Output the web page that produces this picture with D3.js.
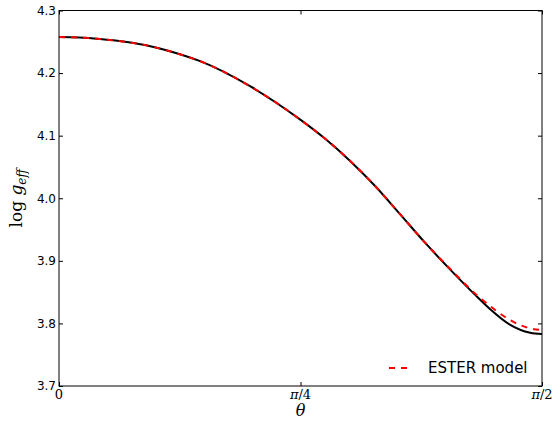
<!DOCTYPE html>
<html><head><meta charset="utf-8">
<script src="https://cdn.jsdelivr.net/npm/d3@7/dist/d3.min.js"></script>
<style>body{margin:0;background:#fff}svg{display:block}</style>
</head><body>
<svg id="c" width="557" height="427"></svg>
<script>
const thetaDeg  = [0, 3.8, 7.6, 12.3, 17.0, 21.6, 26.3, 35.6, 44.9, 49.6, 54.2, 58.9, 63.5, 68.2, 72.9, 77.5, 80.3, 84.0, 87.8, 90];
const loggObs   = [4.2575, 4.2568, 4.2545, 4.2500, 4.2430, 4.2325, 4.219, 4.179, 4.126, 4.095, 4.060, 4.0195, 3.975, 3.929, 3.886, 3.846, 3.823, 3.798, 3.785, 3.783];
const loggEster = [4.2575, 4.2568, 4.2545, 4.2500, 4.2430, 4.2325, 4.219, 4.179, 4.126, 4.095, 4.060, 4.0195, 3.975, 3.929, 3.887, 3.848, 3.828, 3.8055, 3.792, 3.7895];
const yTicks = [3.7,3.8,3.9,4.0,4.1,4.2,4.3];
const xTicks = [0, Math.PI/4, Math.PI/2];
const xTickLabels = ["0","π/4","π/2"];
const legendLabel = "ESTER model";

const svg = d3.select("#c");
const L=59, R=542, T=10.5, B=386;
const x = d3.scaleLinear().domain([0, Math.PI/2]).range([L,R]);
const y = d3.scaleLinear().domain([3.7,4.3]).range([B,T]);
const rad = d => d*Math.PI/180;

const line = d3.line().curve(d3.curveMonotoneX).x(d=>x(rad(d[0]))).y(d=>y(d[1]));
svg.append("path").datum(thetaDeg.map((t,i)=>[t,loggObs[i]]))
  .attr("d",line).attr("fill","none").attr("stroke","#000").attr("stroke-width",2);
svg.append("path").datum(thetaDeg.map((t,i)=>[t,loggEster[i]]))
  .attr("d",line).attr("fill","none").attr("stroke","#ff0000").attr("stroke-width",2)
  .attr("stroke-dasharray","6,6");

// frame
svg.append("rect").attr("x",L).attr("y",T).attr("width",R-L).attr("height",B-T)
  .attr("fill","none").attr("stroke","#000").attr("stroke-width",1);

// axes (inward ticks)
const yl = svg.append("g").attr("transform",`translate(${L},0)`)
  .call(d3.axisRight(y).tickValues(yTicks).tickSize(4).tickFormat(""));
const yr = svg.append("g").attr("transform",`translate(${R},0)`)
  .call(d3.axisLeft(y).tickValues(yTicks).tickSize(4).tickFormat(""));
const xb = svg.append("g").attr("transform",`translate(0,${B})`)
  .call(d3.axisTop(x).tickValues(xTicks).tickSize(4).tickFormat(""));
const xt = svg.append("g").attr("transform",`translate(0,${T})`)
  .call(d3.axisBottom(x).tickValues(xTicks).tickSize(4).tickFormat(""));
[yl,yr,xb,xt].forEach(g=>{g.select(".domain").remove();g.selectAll("line").attr("stroke","#000");});

// y tick labels
svg.append("g").selectAll("text").data(yTicks).join("text")
  .attr("x",L-3).attr("y",d=>y(d)).attr("dy","0.36em")
  .attr("text-anchor","end").attr("font-family","DejaVu Sans").attr("font-size",12)
  .text(d=>d3.format(".1f")(d));

// x tick labels
svg.append("g").selectAll("text").data(xTicks).join("text")
  .attr("x",d=>x(d)).attr("y",B+13)
  .attr("text-anchor","middle").attr("font-family","DejaVu Serif").attr("font-size",13)
  .each(function(d,i){
    const s = xTickLabels[i];
    const t = d3.select(this);
    if (s.startsWith("π")) {
      t.append("tspan").attr("font-style","italic").text("π");
      t.append("tspan").text(s.slice(1));
    } else t.text(s);
  });

// x label
svg.append("text").attr("x",(L+R)/2).attr("y",B+30).attr("text-anchor","middle")
  .attr("font-family","DejaVu Serif").attr("font-style","italic").attr("font-size",16).text("θ");

// y label
const ylab = svg.append("text").attr("transform",`translate(22,${(T+B)/2}) rotate(-90)`)
  .attr("text-anchor","middle").attr("font-family","DejaVu Serif").attr("font-size",17);
ylab.append("tspan").text("log ");
ylab.append("tspan").attr("font-style","italic").text("g");
ylab.append("tspan").attr("font-style","italic").attr("font-size",12).attr("dy",4).text("eff");

// legend
svg.append("line").attr("x1",389).attr("x2",411).attr("y1",368).attr("y2",368)
  .attr("stroke","#ff0000").attr("stroke-width",2).attr("stroke-dasharray","6,6");
svg.append("text").attr("x",428).attr("y",373).attr("font-family","DejaVu Sans").attr("font-size",15)
  .attr("fill","#000").text(legendLabel);
</script>
</body></html>
